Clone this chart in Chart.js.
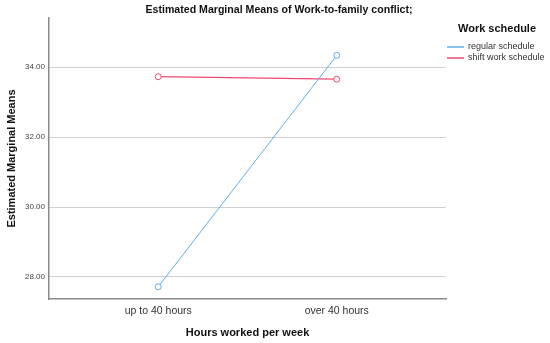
<!DOCTYPE html>
<html>
<head>
<meta charset="utf-8">
<title>Estimated Marginal Means</title>
<script src="https://cdn.jsdelivr.net/npm/chart.js@4"></script>
<style>
    html, body { margin: 0; padding: 0; background: #fff; }
    #wrap { width: 550px; height: 343px; position: relative; }
</style>
</head>
<body>
<div id="wrap"><canvas id="emmChart"></canvas></div>
<script>
// Data
const hoursCategories = ['up to 40 hours', 'over 40 hours'];
const seriesNames = ['regular schedule', 'shift work schedule'];
const regularMeans = [27.72, 34.34];
const shiftMeans = [33.73, 33.66];
const yTickValues = [28, 30, 32, 34];

const FONT = '"Liberation Sans", Arial, sans-serif';
const blue = '#5eaeea';
const pink = '#f0486e';

// Build {x, y} points using the category index as x
function toPoints(values) {
    return values.map((v, i) => ({ x: i, y: v }));
}

// Title and the legend box on the right are drawn here
const titleAndLegend = {
    id: 'titleAndLegend',
    afterDraw(chart) {
        const ctx = chart.ctx;
        ctx.save();
        ctx.fillStyle = '#111';
        ctx.textBaseline = 'middle';
        ctx.textAlign = 'center';
        ctx.font = 'bold 10.6px ' + FONT;
        ctx.fillText('Estimated Marginal Means of Work-to-family conflict;', 279, 10);

        ctx.font = 'bold 11px ' + FONT;
        ctx.fillText('Work schedule', 497, 29);

        ctx.font = '9px ' + FONT;
        ctx.textAlign = 'left';
        chart.data.datasets.forEach((ds, i) => {
            const y = 47 + i * 11;
            ctx.strokeStyle = ds.borderColor;
            ctx.lineWidth = 1.5;
            ctx.beginPath();
            ctx.moveTo(447, y);
            ctx.lineTo(464, y);
            ctx.stroke();
            ctx.fillStyle = '#333';
            ctx.fillText(ds.label, 468, y);
        });
        ctx.restore();
    }
};

const ctx = document.getElementById('emmChart');

new Chart(ctx, {
    type: 'line',
    data: {
        datasets: [
            {
                label: seriesNames[0],
                data: toPoints(regularMeans),
                borderColor: blue,
                backgroundColor: '#fff',
                borderWidth: 1,
                pointRadius: 3,
                pointBorderWidth: 1,
                tension: 0
            },
            {
                label: seriesNames[1],
                data: toPoints(shiftMeans),
                borderColor: pink,
                backgroundColor: '#fff',
                borderWidth: 1.3,
                pointRadius: 3,
                pointBorderWidth: 1,
                tension: 0
            }
        ]
    },
    options: {
        responsive: true,
        maintainAspectRatio: false,
        animation: false,
        layout: { padding: { top: 18, right: 104, left: 0, bottom: 0 } },
        plugins: {
            legend: { display: false },
            title: { display: false },
            tooltip: { enabled: false }
        },
        scales: {
            x: {
                type: 'linear',
                min: -0.612,
                max: 1.612,
                afterBuildTicks: (scale) => {
                    scale.ticks = hoursCategories.map((c, i) => ({ value: i }));
                },
                afterFit: (scale) => { scale.height = 44; },
                grid: { display: false, drawTicks: false },
                border: { display: true, color: '#8a8a8a', width: 1.5 },
                ticks: {
                    padding: 6,
                    color: '#333',
                    font: { family: FONT, size: 10.5 },
                    maxRotation: 0,
                    callback: (v) => hoursCategories[v]
                },
                title: {
                    display: true,
                    text: 'Hours worked per week',
                    color: '#111',
                    font: { family: FONT, size: 11, weight: 'bold' },
                    padding: { top: 0, bottom: 3.4 }
                }
            },
            y: {
                min: 27.37,
                max: 35.41,
                afterBuildTicks: (scale) => {
                    scale.ticks = yTickValues.map(v => ({ value: v }));
                },
                afterFit: (scale) => { scale.width = 49; },
                grid: { color: '#cfcfcf', lineWidth: 1, drawTicks: false },
                border: { display: true, color: '#8a8a8a', width: 1.5 },
                ticks: {
                    padding: 4,
                    color: '#444',
                    font: { family: FONT, size: 8 },
                    callback: (v) => v.toFixed(2)
                },
                title: {
                    display: true,
                    text: 'Estimated Marginal Means',
                    color: '#111',
                    font: { family: FONT, size: 11, weight: 'bold' },
                    padding: { top: 5.4, bottom: 0 }
                }
            }
        }
    },
    plugins: [titleAndLegend]
});
</script>
</body>
</html>
